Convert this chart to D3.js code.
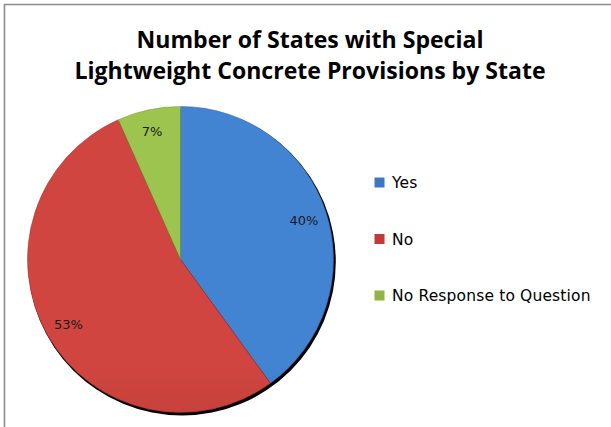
<!DOCTYPE html>
<html>
<head>
<meta charset="utf-8">
<script src="https://cdn.jsdelivr.net/npm/d3@7"></script>
<style>
  html, body { margin: 0; padding: 0; background: #fff; }
  svg { display: block; }
</style>
</head>
<body>
<svg id="chart" width="611" height="427"></svg>
<script>
// ---- data ----
const titleLines = ["Number of States with Special", "Lightweight Concrete Provisions by State"];
const categories = ["Yes", "No", "No Response to Question"];
const counts = [18, 24, 3];
const percentLabels = ["40%", "53%", "7%"];
const colorsTop = ["#4283d2", "#d0453f", "#9dc44e"];
const colorsBottom = ["#3260a0", "#9c2b2b", "#739636"];
const legendColors = ["#3d77c2", "#c03a37", "#8fb445"];

// ---- layout ----
const W = 611, H = 427;
const cx = 180.5, cy = 259.5, R = 153;
const svg = d3.select("#chart");

// frame (only top and left edges visible)
svg.append("path")
  .attr("d", `M4.5,${H} L4.5,4.5 L${W},4.5`)
  .attr("fill", "none").attr("stroke", "#8c8c8c").attr("stroke-width", 1.6);

const defs = svg.append("defs");
categories.forEach((c, i) => {
  const g = defs.append("linearGradient").attr("id", "grad" + i)
    .attr("gradientUnits", "userSpaceOnUse")
    .attr("x1", 0).attr("y1", cy - R).attr("x2", 0).attr("y2", cy + R);
  g.append("stop").attr("offset", "0%").attr("stop-color", colorsTop[i]);
  g.append("stop").attr("offset", "100%").attr("stop-color", colorsBottom[i]);
});
const f = defs.append("filter").attr("id", "shadow").attr("x", "-10%").attr("y", "-10%").attr("width", "120%").attr("height", "120%");
f.append("feGaussianBlur").attr("stdDeviation", 0.6);

// title
const title = svg.append("g");
const tl = [48, 79];
titleLines.forEach((t, i) => {
  title.append("text")
    .attr("x", 310).attr("y", tl[i])
    .attr("text-anchor", "middle")
    .attr("font-family", "'Open Sans', 'Noto Sans', sans-serif")
    .attr("font-weight", "bold")
    .attr("font-size", 24)
    .attr("textLength", i === 0 ? 347 : 471)
    .attr("lengthAdjust", "spacingAndGlyphs")
    .attr("fill", "#000")
    .text(t);
});

// pie
const pie = d3.pie().sort(null).value(d => d)(counts);
const arc = d3.arc().innerRadius(0).outerRadius(R);

const gp = svg.append("g").attr("transform", `translate(${cx},${cy})`);
gp.append("circle").attr("cx", 1.5).attr("cy", 2.2).attr("r", R + 0.8)
  .attr("fill", "#000").attr("filter", "url(#shadow)");
gp.selectAll("path.slice").data(pie).enter().append("path")
  .attr("class", "slice")
  .attr("d", arc)
  .attr("fill", (d, i) => `url(#grad${i})`)
  .attr("stroke", (d, i) => colorsBottom[i])
  .attr("stroke-width", 0.5);

const labelPos = [[304 - cx, 220 - cy], [68.5 - cx, 324.5 - cy], [152 - cx, 131 - cy]];
gp.selectAll("text.pct").data(pie).enter().append("text")
  .attr("class", "pct")
  .attr("x", (d, i) => labelPos[i][0])
  .attr("y", (d, i) => labelPos[i][1])
  .attr("text-anchor", "middle")
  .attr("dominant-baseline", "central")
  .attr("font-family", "'DejaVu Sans', sans-serif")
  .attr("font-size", 13)
  .attr("fill", "#1a1a1a")
  .text((d, i) => percentLabels[i]);

// legend
const legY = d3.scalePoint().domain(categories).range([182.5, 295.5]);
const lg = svg.append("g");
categories.forEach((c, i) => {
  lg.append("rect")
    .attr("x", 374.5).attr("y", legY(c) - 5)
    .attr("width", 10).attr("height", 10)
    .attr("fill", legendColors[i]);
  lg.append("text")
    .attr("x", 392).attr("y", legY(c) + 5.5)
    .attr("font-family", "'DejaVu Sans', sans-serif")
    .attr("font-size", 15.5)
    .attr("letter-spacing", 0.15)
    .attr("fill", "#000")
    .text(c);
});
</script>
</body>
</html>
